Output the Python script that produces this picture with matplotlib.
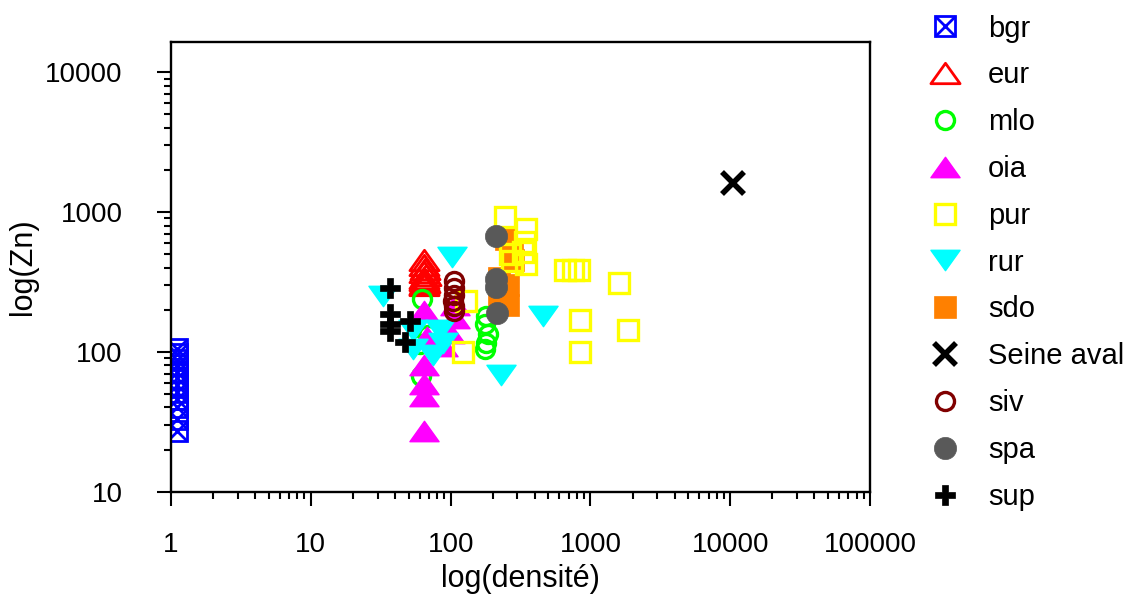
import matplotlib
matplotlib.use("Agg")
import matplotlib.pyplot as plt
from matplotlib.path import Path

plt.rcParams['font.family'] = ['Liberation Sans', 'DejaVu Sans']

# zinc vs density, one series per site group
bgr_x = [1.1, 1.1, 1.1, 1.1, 1.1, 1.1, 1.1, 1.1, 1.1, 1.1, 1.1, 1.1]
bgr_y = [105, 97, 88, 80, 72, 65, 58, 52, 46, 40, 33, 27]

eur_x = [65, 64, 66, 65, 67, 64, 65, 66, 65, 64]
eur_y = [450, 415, 390, 370, 355, 340, 325, 315, 305, 300]

mlo_x = [62, 69, 60, 61, 180, 175, 185, 178, 176]
mlo_y = [240, 131, 113, 67, 180, 157, 135, 116, 104]

oia_x = [65, 68, 107, 107, 99, 88, 65, 65, 65, 65]
oia_y = [195, 128, 218, 176, 137, 110, 80, 59, 48, 27]

pur_x = [129, 123, 246, 346, 340, 330, 346, 266, 275, 658, 751, 828, 1593, 843, 1867, 843]
pur_y = [230, 100, 927, 755, 607, 514, 422, 497, 444, 384, 384, 384, 310, 168, 144, 100]

rur_x = [33, 103, 54, 54, 84, 88, 75, 230, 455]
rur_y = [250, 480, 144, 104, 144, 116, 95, 68, 180]

sdo_x = [250, 275, 280, 222, 258, 222, 258]
sdo_y = [640, 540, 450, 335, 300, 235, 218]

seine_x = [10400]
seine_y = [1600]

siv_x = [105, 106, 105, 104, 105, 106]
siv_y = [320, 287, 257, 230, 212, 195]

spa_x = [210, 210, 210, 215]
spa_y = [670, 330, 290, 190]

sup_x = [37, 37, 37, 37, 51, 47]
sup_y = [287, 185, 157, 140, 166, 117]

x_ticks = [1, 10, 100, 1000, 10000, 100000]
x_labels = ['1', '10', '100', '1000', '10000', '100000']
y_ticks = [10, 100, 1000, 10000]
y_labels = ['10', '100', '1000', '10000']

# flattened triangles (wider than tall), closed so open ones get all three sides
tri_up = Path([(-1, -0.7), (1, -0.7), (0, 0.7), (-1, -0.7)], closed=True)
tri_down = Path([(-1, 0.7), (1, 0.7), (0, -0.7), (-1, 0.7)], closed=True)

fig = plt.figure(figsize=(11.26, 5.96), dpi=100)
ax = fig.add_axes([0.1519, 0.175, 0.6208, 0.755])
ax.set_xscale('log')
ax.set_yscale('log')

h_bgr_sq, = ax.plot(bgr_x, bgr_y, ls='none', marker='s', ms=14, mfc='none', mec='#0000ff', mew=2, zorder=2)
h_bgr_x, = ax.plot(bgr_x, bgr_y, ls='none', marker='x', ms=14, mec='#0000ff', mew=2, zorder=2)
h_eur, = ax.plot(eur_x, eur_y, ls='none', marker=tri_up, ms=21, mfc='none', mec='#ff0000', mew=2, zorder=2.1)
h_mlo, = ax.plot(mlo_x, mlo_y, ls='none', marker='o', ms=13, mfc='none', mec='#00ff00', mew=2.4, zorder=2.3)
h_oia, = ax.plot(oia_x, oia_y, ls='none', marker=tri_up, ms=21, color='#ff00ff', mew=1, zorder=2.4)
h_pur, = ax.plot(pur_x, pur_y, ls='none', marker='s', ms=14, mfc='none', mec='#ffff00', mew=2.4, zorder=2.8)
h_rur, = ax.plot(rur_x, rur_y, ls='none', marker=tri_down, ms=21, color='#00ffff', mew=1, zorder=2.5)
h_sdo, = ax.plot(sdo_x, sdo_y, ls='none', marker='s', ms=16, color='#ff8000', mew=0.5, zorder=2.2)
h_seine, = ax.plot(seine_x, seine_y, ls='none', marker='x', ms=16, mec='black', mew=4, zorder=3)
h_siv, = ax.plot(siv_x, siv_y, ls='none', marker='o', ms=13, mfc='none', mec='#800000', mew=2.4, zorder=3.1)
h_spa, = ax.plot(spa_x, spa_y, ls='none', marker='o', ms=16, color='#595959', mew=0.5, zorder=2.9)
h_sup, = ax.plot(sup_x, sup_y, ls='none', marker='P', ms=14, color='black', mew=0.5, zorder=3.2)

ax.set_xlim(1, 100000)
ax.set_ylim(10, 16500)
ax.set_xticks(x_ticks, x_labels)
ax.set_yticks(y_ticks, y_labels)
ax.tick_params(which='major', direction='out', length=10, width=1.5, labelsize=20, pad=19)
ax.tick_params(which='minor', direction='out', length=5, width=1.5)
ax.tick_params(axis='y', which='major', pad=25)
for s in ax.spines.values():
    s.set_linewidth(1.7)

ax.set_xlabel('log(densité)', fontsize=22, labelpad=4)
ax.set_ylabel('log(Zn)', fontsize=22, labelpad=5)

handles = [(h_bgr_sq, h_bgr_x), h_eur, h_mlo, h_oia, h_pur, h_rur, h_sdo,
           h_seine, h_siv, h_spa, h_sup]
labels = ['bgr', 'eur', 'mlo', 'oia', 'pur', 'rur', 'sdo', 'Seine aval', 'siv', 'spa', 'sup']
fig.legend(handles, labels, loc='upper left', bbox_to_anchor=(0.8135, 0.9755),
           frameon=False, fontsize=21, labelspacing=0.645, handletextpad=0.47,
           borderpad=0, borderaxespad=0, handlelength=2.0)

fig.savefig('out.png', dpi=100)
